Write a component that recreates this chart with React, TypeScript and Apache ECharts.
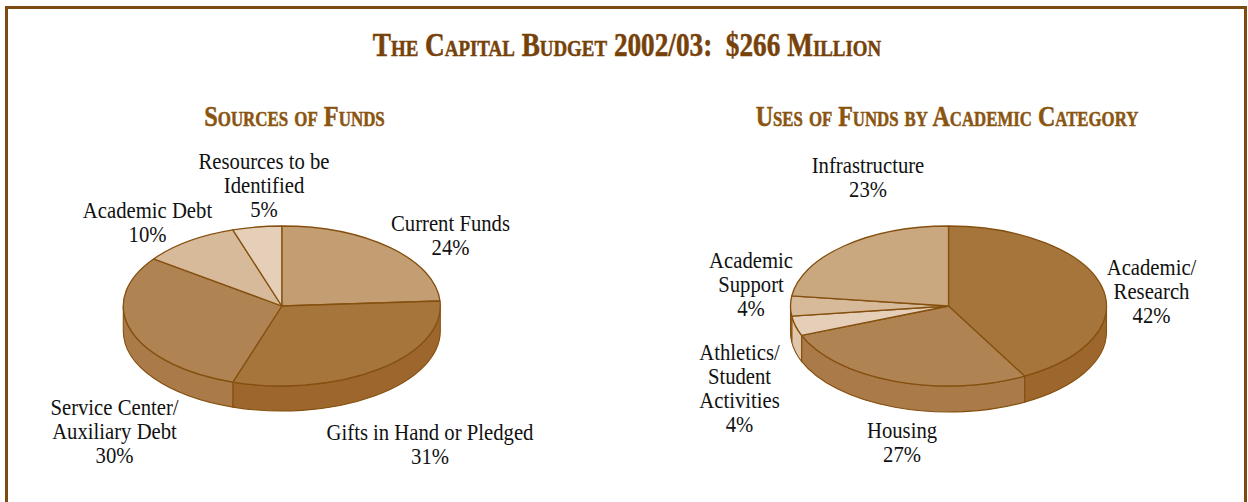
import React, { useEffect, useRef } from "react";
import * as echarts from "echarts";

const titleText = "The Capital Budget 2002/03:  $266 Million";
const leftTitle = "Sources of Funds";
const rightTitle = "Uses of Funds by Academic Category";

const sourceNames = ["Current Funds", "Gifts in Hand or Pledged", "Service Center/\nAuxiliary Debt", "Academic Debt", "Resources to be\nIdentified"];
const sourceValues = [24, 31, 30, 10, 5];
const sourceTop = ["#c49e73", "#a5753c", "#b08353", "#d7ba99", "#e5cfb8"];
const sourceSide = ["#b98f5f", "#9d662c", "#aa7a48", "#cfae8a", "#dcc3a8"];
const sourceLabelPos = [[450.5, 223], [430, 432], [114.5, 407], [147.5, 210], [264, 161]];

const useNames = ["Academic/\nResearch", "Housing", "Athletics/\nStudent\nActivities", "Academic\nSupport", "Infrastructure"];
const useValues = [42, 27, 4, 4, 23];
const useTop = ["#a5753c", "#b08353", "#e5cfb8", "#d7ba99", "#caa87f"];
const useSide = ["#9d662c", "#aa7a48", "#e0c6aa", "#cfae8a", "#bf9a70"];
const useLabelPos = [[1151.5, 267], [902, 430], [739.5, 352], [751, 260], [868, 165]];

const STROKE = "#85500f";
const FRAME = "#7d4a10";
const SERIF = '"Liberation Serif"';
const RY = 80;
const LINE = 24.3;

function pt(cx: number, cy: number, rx: number, deg: number) {
  const a = (deg * Math.PI) / 180;
  return [cx + rx * Math.sin(a), cy - RY * Math.cos(a)];
}

function topPath(cx: number, cy: number, rx: number, a0: number, a1: number) {
  const p0 = pt(cx, cy, rx, a0);
  const p1 = pt(cx, cy, rx, a1);
  const large = a1 - a0 > 180 ? 1 : 0;
  return `M${cx} ${cy}L${p0[0]} ${p0[1]}A${rx} ${RY} 0 ${large} 1 ${p1[0]} ${p1[1]}Z`;
}

function sidePath(cx: number, cy: number, rx: number, depth: number, a0: number, a1: number) {
  const s = Math.max(a0, 90);
  const e = Math.min(a1, 270);
  if (e <= s) return null;
  const p0 = pt(cx, cy, rx, s);
  const p1 = pt(cx, cy, rx, e);
  return `M${p0[0]} ${p0[1]}A${rx} ${RY} 0 0 1 ${p1[0]} ${p1[1]}L${p1[0]} ${p1[1] + depth}A${rx} ${RY} 0 0 0 ${p0[0]} ${p0[1] + depth}Z`;
}

function pieSeries(values: number[], cx: number, cy: number, rx: number, depth: number, top: string[], side: string[]) {
  const total = values.reduce((a, b) => a + b, 0);
  const starts: number[] = [];
  values.reduce((acc, v) => {
    starts.push(acc);
    return acc + v;
  }, 0);
  return {
    type: "custom",
    coordinateSystem: "none",
    silent: true,
    data: values,
    renderItem: (params: any) => {
      const i = params.dataIndex;
      const a0 = (starts[i] / total) * 360;
      const a1 = ((starts[i] + values[i]) / total) * 360;
      const children: any[] = [];
      const sp = sidePath(cx, cy, rx, depth, a0, a1);
      if (sp) {
        children.push({
          type: "path",
          shape: { pathData: sp },
          style: { fill: side[i], stroke: STROKE, lineWidth: 1.1 },
        });
      }
      children.push({
        type: "path",
        shape: { pathData: topPath(cx, cy, rx, a0, a1) },
        style: { fill: top[i], stroke: STROKE, lineWidth: 1.3, lineJoin: "round" },
      });
      return { type: "group", children };
    },
  };
}

function labels(names: string[], values: number[], pos: number[][]) {
  return names.map((n, i) => {
    const text = `${n}\n${values[i]}%`;
    return {
      type: "text",
      x: pos[i][0],
      y: pos[i][1] - 12,
      scaleX: 0.9,
      silent: true,
      style: {
        text,
        fontFamily: SERIF,
        fontSize: 23,
        lineHeight: LINE,
        fill: "#111111",
        align: "center",
        verticalAlign: "top",
      },
    };
  });
}

function heading(text: string, x: number, y: number, size: number, scaleX: number, fill: string) {
  return {
    type: "text",
    x,
    y,
    scaleX,
    silent: true,
    style: {
      text,
      font: `small-caps bold ${size}px ${SERIF}`,
      fill,
      stroke: fill,
      lineWidth: 0.5,
      align: "center",
      verticalAlign: "middle",
    },
  };
}

export default function App() {
  const ref = useRef<HTMLDivElement>(null);
  useEffect(() => {
    document.body.style.margin = "0";
    document.body.style.overflow = "hidden";
    const chart = echarts.init(ref.current!, undefined, { renderer: "svg" });
    chart.setOption({
      animation: false,
      backgroundColor: "#ffffff",
      series: [
        pieSeries(sourceValues, 281.8, 306, 158.5, 25, sourceTop, sourceSide),
        pieSeries(useValues, 948.5, 306, 158, 26, useTop, useSide),
      ],
      graphic: [
        { type: "polyline", silent: true, shape: { points: [[6.5, 502], [6.5, 7.5], [1245.5, 7.5], [1245.5, 502]] }, style: { fill: "none", stroke: FRAME, lineWidth: 3 } },
        heading(titleText, 627, 45, 33, 0.826, "#77420a"),
        heading(leftTitle, 294.5, 116, 30, 0.81, "#8a5510"),
        heading(rightTitle, 947, 116, 30, 0.8, "#8a5510"),
        ...labels(sourceNames, sourceValues, sourceLabelPos),
        ...labels(useNames, useValues, useLabelPos),
      ],
    });
    return () => chart.dispose();
  }, []);
  return <div ref={ref} style={{ position: "absolute", left: 0, top: 0, width: 1248, height: 502 }} />;
}
